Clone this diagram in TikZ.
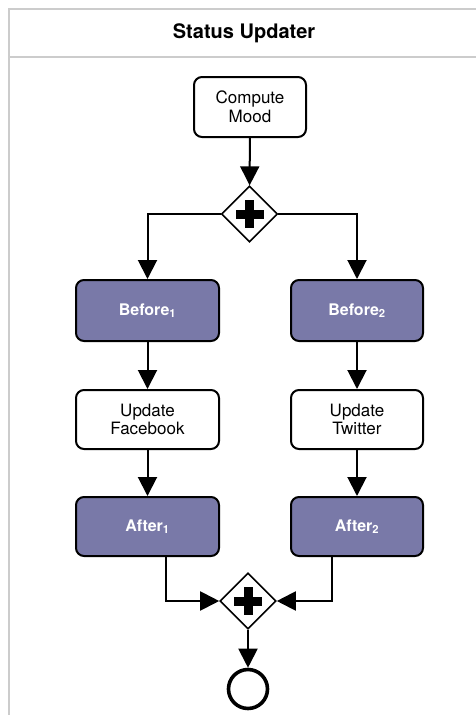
\documentclass[tikz,border=0pt]{standalone}
\usepackage{fontspec}
\setmainfont{TeX Gyre Heros}
\usepackage{tikz}
\usetikzlibrary{arrows.meta,shapes.geometric,positioning,calc}
\definecolor{lanegray}{RGB}{204,204,204}
\definecolor{aspectfill}{RGB}{121,121,168}

\begin{document}
\begin{tikzpicture}
  [
    x=1pt,y=-1pt,
    task/.style={rectangle,rounded corners=8pt,draw=black,fill=white,line width=2pt,align=center,
      font=\fontsize{17}{18.5}\selectfont,inner sep=0pt},
    aspect/.style={task,fill=aspectfill,text=white,font=\fontsize{16}{18}\selectfont\bfseries},
    gateway/.style={diamond,draw=black,fill=white,line width=1.6pt,inner sep=0pt,minimum size=56pt,
      path picture={
        \fill[black] ([xshift=-14pt,yshift=-4.5pt]path picture bounding box.center) rectangle ([xshift=14pt,yshift=4.5pt]path picture bounding box.center);
        \fill[black] ([xshift=-4.5pt,yshift=-14pt]path picture bounding box.center) rectangle ([xshift=4.5pt,yshift=14pt]path picture bounding box.center);
      }},
    endevent/.style={circle,draw=black,fill=white,line width=3.6pt,minimum size=39pt,inner sep=0pt},
    flow/.style={draw=black,line width=2pt,-{Triangle[width=19pt,length=19pt]}}
  ]
  \useasboundingbox (0,0) rectangle (475,715);
  % pool
  \draw[lanegray,line width=1.6pt] (9,715) -- (9,9) -- (476,9);
  \draw[lanegray,line width=1.6pt] (9,57) -- (476,57);
  \node[font=\fontsize{20}{22}\selectfont\bfseries] (title) at (244,33) {Status Updater};

  % tasks
  \node[task,minimum width=112pt,minimum height=60pt] (compute mood) at (250,107) {Compute\\Mood};
  \node[gateway] (split) at (249.5,214) {};
  \node[aspect,minimum width=143pt,minimum height=61pt] (before 1) at (147.5,310.5) {Before\textsubscript{1}};
  \node[aspect,minimum width=132pt,minimum height=61pt] (before 2) at (357,310.5) {Before\textsubscript{2}};
  \node[task,minimum width=143pt,minimum height=59pt] (update facebook) at (147.5,419.5) {Update\\Facebook};
  \node[task,minimum width=132pt,minimum height=59pt] (update twitter) at (357,419.5) {Update\\Twitter};
  \node[aspect,minimum width=143pt,minimum height=59pt] (after 1) at (147.5,526.5) {After\textsubscript{1}};
  \node[aspect,minimum width=132pt,minimum height=59pt] (after 2) at (357,526.5) {After\textsubscript{2}};
  \node[gateway] (join) at (248,601) {};
  \node[endevent] (end) at (248,689) {};

  % flows
  \draw[flow] (compute mood) -- (split);
  \draw[flow] (split.west) -| (before 1.north);
  \draw[flow] (split.east) -| (before 2.north);
  \draw[flow] (before 1) -- (update facebook);
  \draw[flow] (before 2) -- (update twitter);
  \draw[flow] (update facebook) -- (after 1);
  \draw[flow] (update twitter) -- (after 2);
  \draw[flow] (after 1.south -| 166,0) |- (join.west);
  \draw[flow] (after 2.south -| 332,0) |- (join.east);
  \draw[flow] (join) -- (end);
\end{tikzpicture}
\end{document}
